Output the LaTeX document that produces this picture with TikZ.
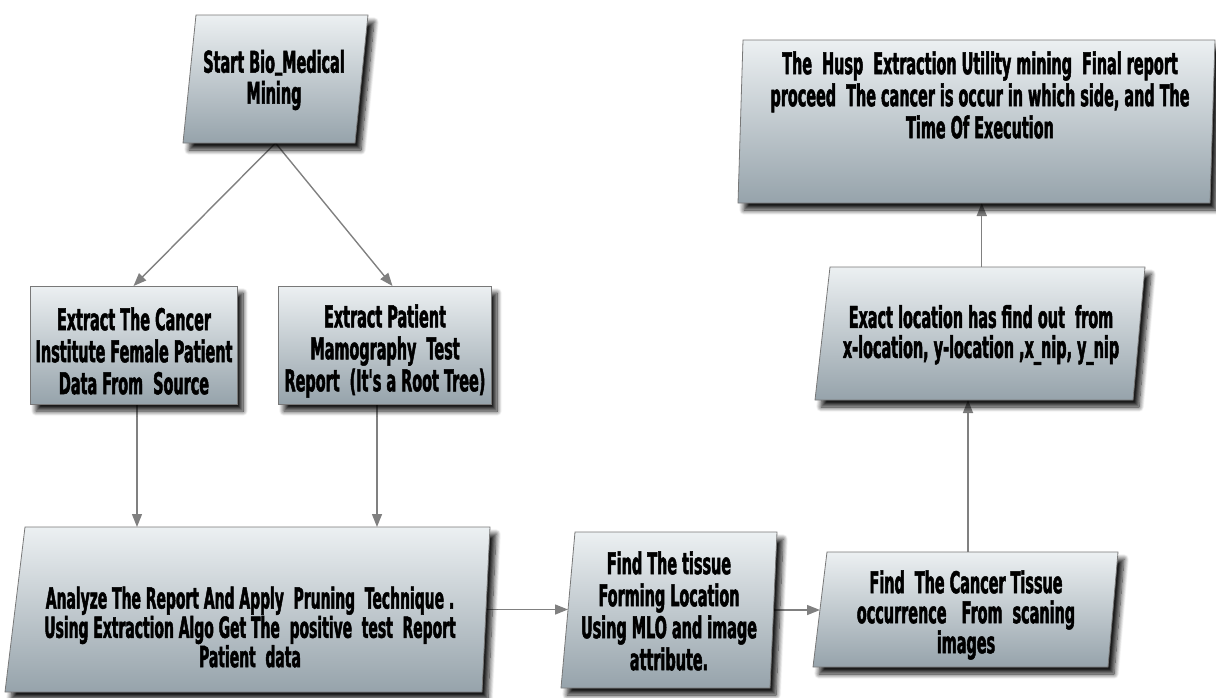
\documentclass[tikz,border=0pt]{standalone}
\usepackage{fontspec}
\newfontfamily\boxfont{DejaVu Sans}[FakeStretch=0.48, BoldFeatures={FakeBold=1.6}]
\usetikzlibrary{arrows.meta,shadows.blur,backgrounds}
\definecolor{boxtop}{RGB}{236,240,242}
\definecolor{boxbot}{RGB}{150,163,171}
\definecolor{boxline}{RGB}{120,120,120}
\definecolor{arrcol}{RGB}{128,128,128}
\newcommand\us{\raisebox{4pt}{\_}}
\tikzset{
  boxshape/.style={draw=boxline, line width=0.8pt, top color=boxtop, bottom color=boxbot,
    blur shadow={shadow xshift=6pt, shadow yshift=-7pt, shadow blur radius=5pt, shadow blur steps=10, shadow opacity=90}},
  anchorbox/.style={inner sep=0pt, outer sep=0pt, draw=none},
  txt/.style={font=\boxfont\bfseries\fontsize{30}{31}\selectfont, align=center, inner sep=0pt, text=black},
  arr/.style={draw=arrcol, line width=1.4pt, -{Triangle[length=13pt,width=10pt]}, arrcol}
}
\newcommand\pbox[7]{%
  \path[boxshape] (#2,#6) -- (#3,#6) -- (#4,#7) -- (#5,#7) -- cycle;
  \node[anchorbox, minimum width={((#3+#4)-(#2+#5))/2}, minimum height={#7-#6}] (#1) at ({(#2+#3+#4+#5)/4},{(#6+#7)/2}) {};
}
\begin{document}
\begin{tikzpicture}[x=1pt,y=-1pt]
\useasboundingbox (0,0) rectangle (1216,697);

\pbox{start}{196}{368}{355}{183}{15}{143}
\pbox{cancer}{30}{237}{237}{30}{286}{404}
\pbox{patient}{278}{491}{491}{278}{286}{404}
\pbox{analyze}{25}{490}{482}{5}{527}{692}
\pbox{tissue}{575}{777}{770}{561}{532}{688}
\pbox{findc}{827}{1118}{1108}{813}{552}{667}
\pbox{exact}{830}{1145}{1133}{815}{267}{400}
\pbox{final}{743}{1215}{1210}{738}{40}{203}

\node[txt] (startT) at (274,80) {Start Bio\us Medical\\Mining};
\node[txt, font=\boxfont\bfseries\fontsize{30}{32}\selectfont] (cancerT) at (134,351) {Extract The Cancer\\Institute Female Patient\\Data From\ \ Source};
\node[txt, font=\boxfont\bfseries\fontsize{30}{32}\selectfont] (patientT) at (385,351) {Extract Patient\\Mamography\ \ Test\\Report\ \ (It's a Root Tree)};
\node[txt, font=\boxfont\bfseries\fontsize{29}{27}\selectfont] (analyzeT) at (250,627) {Analyze The Report And Apply\ \ Pruning\ \ Technique .\\Using Extraction Algo Get The\ \ positive\ \ test\ \ Report\\Patient\ \ data};
\node[txt, font=\boxfont\bfseries\fontsize{30}{32}\selectfont] (tissueT) at (669,611) {Find The tissue\\Forming Location\\Using MLO and image\\attribute.};
\node[txt, font=\boxfont\bfseries\fontsize{30}{30}\selectfont] (findcT) at (966,615) {Find\ \ The Cancer Tissue\\occurrence\ \ \ From\ \ scaning\\images};
\node[txt, font=\boxfont\bfseries\fontsize{30}{30}\selectfont] (exactT) at (981,335) {Exact location has find out\ \ from\\x-location, y-location ,x\_nip, y\_nip};
\node[txt, font=\boxfont\bfseries\fontsize{30}{32}\selectfont] (finalT) at (980,95) {The\ \ Husp\ \ Extraction Utility mining\ \ Final report\\proceed\ \ The cancer is occur in which side, and The\\Time Of Execution};

\begin{scope}[on background layer]
\draw[arr] (start.south) -- (cancer.north);
\draw[arr] (start.south) -- ([xshift=8pt]patient.north);
\draw[arr] ([xshift=3.5pt]cancer.south) -- ([xshift=3.5pt]cancer.south |- analyze.north);
\draw[arr] ([xshift=-7.5pt]patient.south) -- ([xshift=-7.5pt]patient.south |- analyze.north);
\draw[arr] (analyze.east) -- (analyze.east -| tissue.west);
\draw[arr] (tissue.east) -- (tissue.east -| findc.west);
\draw[arr] ([xshift=1.5pt]findc.north) -- ([xshift=1.5pt]findc.north |- exact.south);
\draw[arr] ([xshift=1pt]exact.north) -- ([xshift=1pt]exact.north |- final.south);
\end{scope}
\end{tikzpicture}
\end{document}
